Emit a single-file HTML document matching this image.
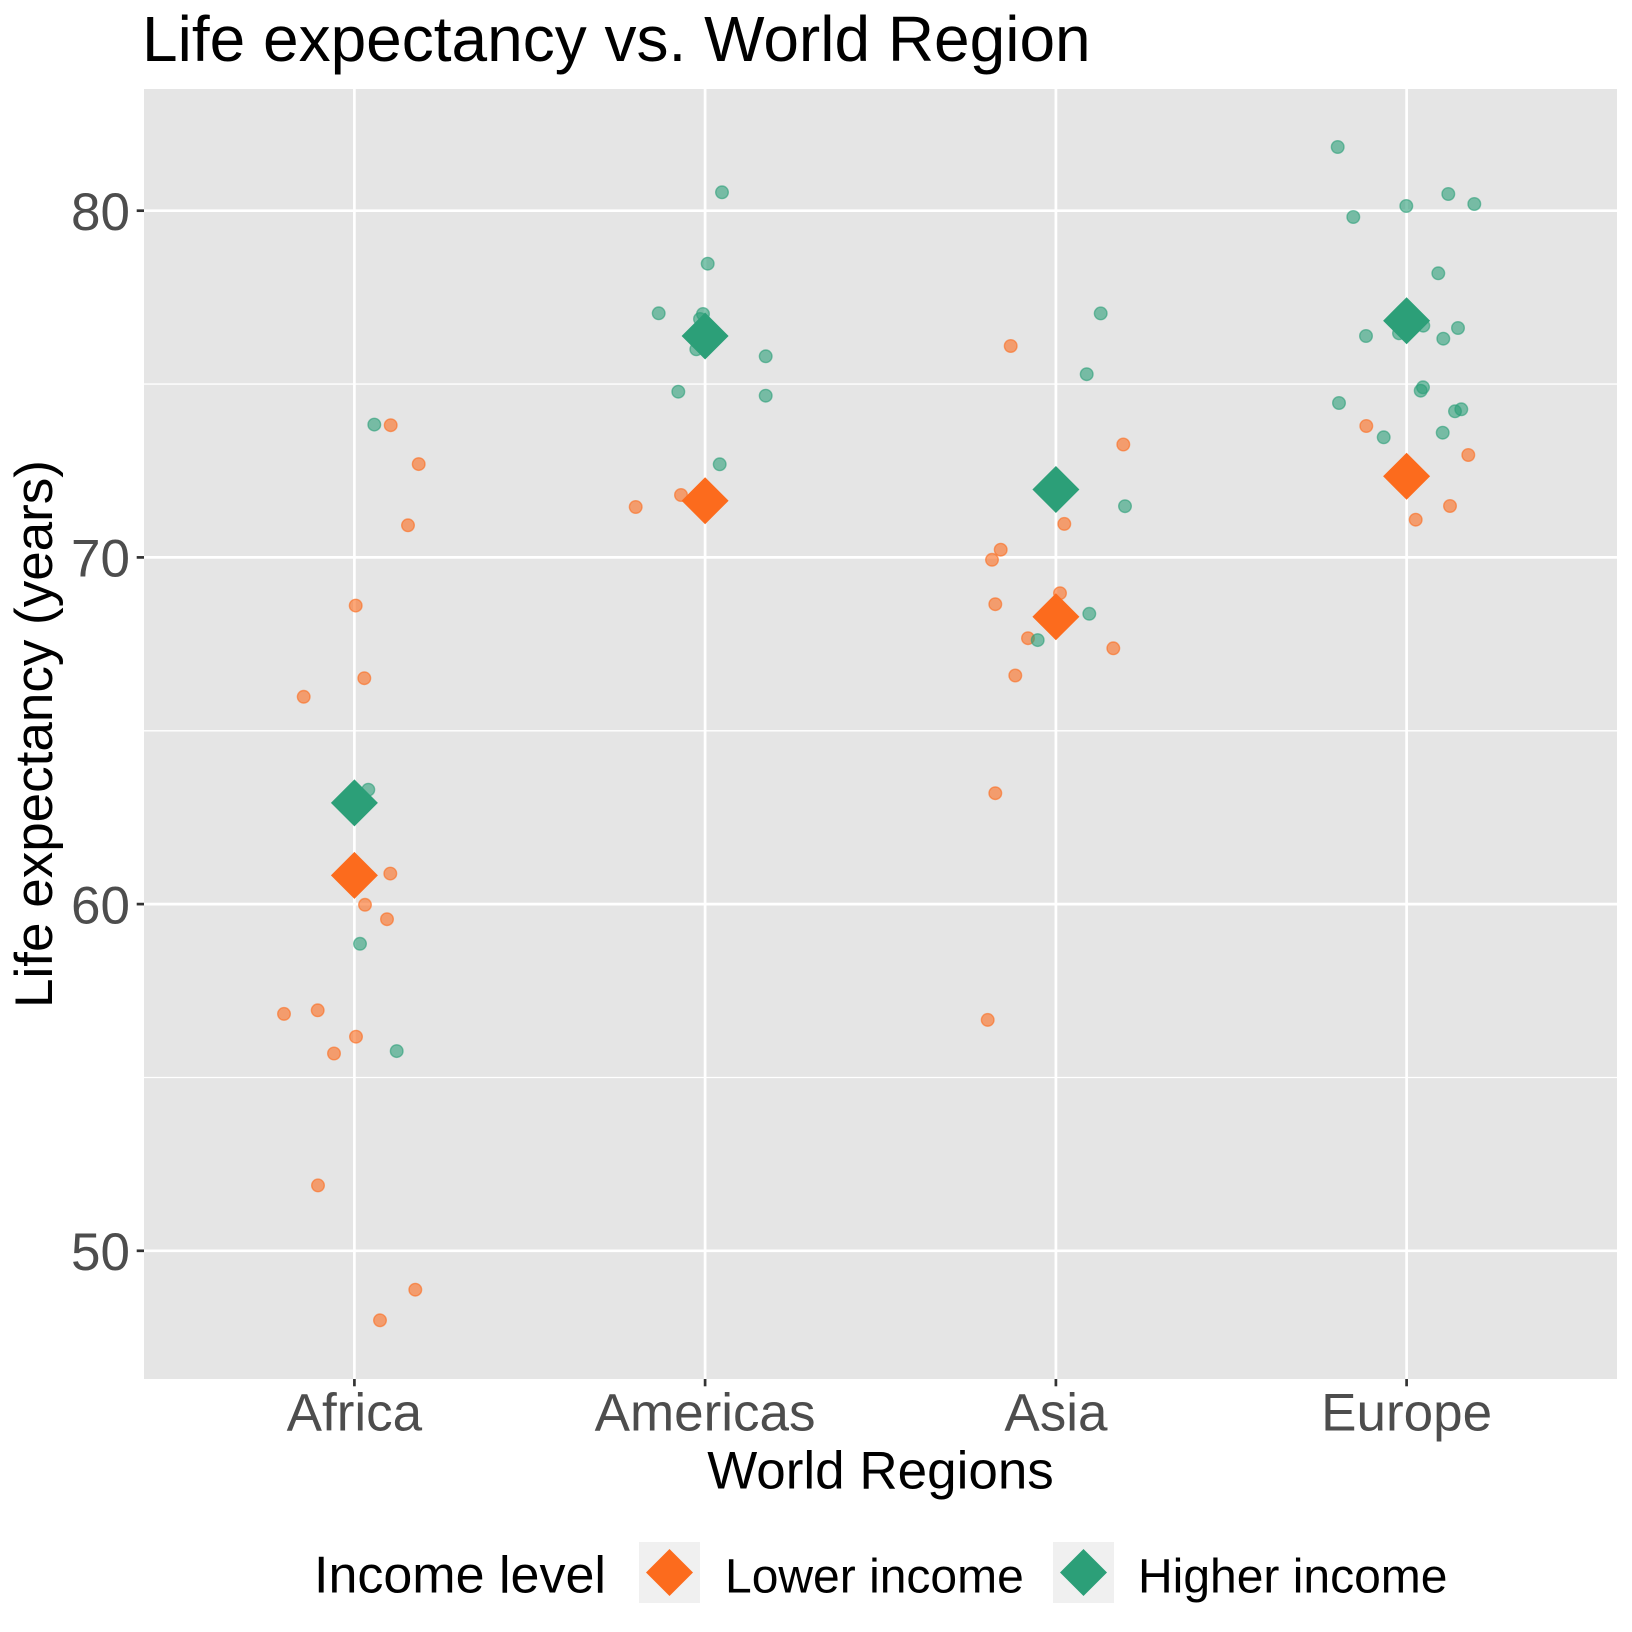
<!DOCTYPE html>
<html>
<head>
<meta charset="utf-8">
<style>
html,body{margin:0;padding:0;background:#fff;}
svg{display:block;}
text{font-family:"Liberation Sans", Arial, sans-serif;}
</style>
</head>
<body>
<svg width="1632" height="1632" viewBox="0 0 1632 1632" xmlns="http://www.w3.org/2000/svg">
<rect x="0" y="0" width="1632" height="1632" fill="#ffffff"/>
<!-- title -->
<text x="142" y="61" font-size="64" fill="#000">Life expectancy vs. World Region</text>
<!-- panel -->
<rect x="144" y="89" width="1473" height="1290" fill="#E5E5E5"/>
<!-- minor grid -->
<g stroke="#ffffff" stroke-width="1.35">
<line x1="144" x2="1617" y1="1077.5" y2="1077.5"/>
<line x1="144" x2="1617" y1="730.8" y2="730.8"/>
<line x1="144" x2="1617" y1="384.1" y2="384.1"/>
</g>
<!-- major grid -->
<g stroke="#ffffff" stroke-width="2.7">
<line x1="144" x2="1617" y1="1250.8" y2="1250.8"/>
<line x1="144" x2="1617" y1="904.1" y2="904.1"/>
<line x1="144" x2="1617" y1="557.4" y2="557.4"/>
<line x1="144" x2="1617" y1="210.7" y2="210.7"/>
<line x1="354.4" x2="354.4" y1="89" y2="1379"/>
<line x1="705.1" x2="705.1" y1="89" y2="1379"/>
<line x1="1055.9" x2="1055.9" y1="89" y2="1379"/>
<line x1="1406.6" x2="1406.6" y1="89" y2="1379"/>
</g>
<!-- points -->
<g id="pts" stroke-width="1.4">
<g fill="#FC6B1D" stroke="#FC6B1D" fill-opacity="0.6" stroke-opacity="0.6">
<circle cx="390.7" cy="425.2" r="6.3"/>
<circle cx="418.7" cy="464.1" r="6.3"/>
<circle cx="408" cy="525.3" r="6.3"/>
<circle cx="355.7" cy="605.6" r="6.3"/>
<circle cx="364.3" cy="678.2" r="6.3"/>
<circle cx="303.7" cy="696.8" r="6.3"/>
<circle cx="390.3" cy="873.6" r="6.3"/>
<circle cx="365" cy="904.8" r="6.3"/>
<circle cx="387" cy="919.2" r="6.3"/>
<circle cx="284" cy="1013.9" r="6.3"/>
<circle cx="317.7" cy="1010.3" r="6.3"/>
<circle cx="356" cy="1036.7" r="6.3"/>
<circle cx="334" cy="1053.5" r="6.3"/>
<circle cx="318" cy="1185.4" r="6.3"/>
<circle cx="415.3" cy="1289.7" r="6.3"/>
<circle cx="380" cy="1320.3" r="6.3"/>

<circle cx="681" cy="495" r="6.3"/>
<circle cx="635.7" cy="507" r="6.3"/>

<circle cx="1010.7" cy="346" r="6.3"/>
<circle cx="1123.3" cy="444.5" r="6.3"/>
<circle cx="1064.3" cy="523.9" r="6.3"/>
<circle cx="1000.7" cy="549.7" r="6.3"/>
<circle cx="992" cy="559.8" r="6.3"/>
<circle cx="1060" cy="593.2" r="6.3"/>
<circle cx="995.3" cy="604.2" r="6.3"/>
<circle cx="1028" cy="638.2" r="6.3"/>
<circle cx="1113.3" cy="648.3" r="6.3"/>
<circle cx="1015.3" cy="675.5" r="6.3"/>
<circle cx="995.3" cy="793.2" r="6.3"/>
<circle cx="987.7" cy="1019.9" r="6.3"/>

<circle cx="1366.3" cy="426" r="6.3"/>
<circle cx="1468.3" cy="455" r="6.3"/>
<circle cx="1450" cy="506" r="6.3"/>
<circle cx="1415.7" cy="519.7" r="6.3"/>
</g>
<g fill="#2C9F78" stroke="#2C9F78" fill-opacity="0.6" stroke-opacity="0.6">
<circle cx="374.3" cy="424.6" r="6.3"/>
<circle cx="368.3" cy="789.7" r="6.3"/>
<circle cx="360" cy="943.8" r="6.3"/>
<circle cx="396.7" cy="1051.1" r="6.3"/>

<circle cx="722" cy="192.3" r="6.3"/>
<circle cx="707.7" cy="263.7" r="6.3"/>
<circle cx="658.7" cy="313.3" r="6.3"/>
<circle cx="703" cy="314" r="6.3"/>
<circle cx="700" cy="319" r="6.3"/>
<circle cx="696.3" cy="349.3" r="6.3"/>
<circle cx="765.7" cy="356.3" r="6.3"/>
<circle cx="678.3" cy="391.7" r="6.3"/>
<circle cx="765.7" cy="395.7" r="6.3"/>
<circle cx="719.7" cy="464.3" r="6.3"/>

<circle cx="1100.7" cy="313.4" r="6.3"/>
<circle cx="1086.7" cy="374.2" r="6.3"/>
<circle cx="1125" cy="506.2" r="6.3"/>
<circle cx="1089.3" cy="613.8" r="6.3"/>
<circle cx="1037.7" cy="640.1" r="6.3"/>

<circle cx="1337.7" cy="147" r="6.3"/>
<circle cx="1448.3" cy="194" r="6.3"/>
<circle cx="1474.3" cy="204" r="6.3"/>
<circle cx="1406.3" cy="206" r="6.3"/>
<circle cx="1353.3" cy="217" r="6.3"/>
<circle cx="1438.3" cy="273.3" r="6.3"/>
<circle cx="1423.3" cy="325.7" r="6.3"/>
<circle cx="1399" cy="333.3" r="6.3"/>
<circle cx="1458" cy="328" r="6.3"/>
<circle cx="1366" cy="336" r="6.3"/>
<circle cx="1443.3" cy="338.7" r="6.3"/>
<circle cx="1423" cy="387.3" r="6.3"/>
<circle cx="1420.7" cy="390.7" r="6.3"/>
<circle cx="1339" cy="403" r="6.3"/>
<circle cx="1461.3" cy="409.3" r="6.3"/>
<circle cx="1455" cy="411.3" r="6.3"/>
<circle cx="1383.7" cy="437.3" r="6.3"/>
<circle cx="1442.7" cy="432.7" r="6.3"/>
</g>
</g>
<!-- summary diamonds -->
<g>
<polygon fill="#2C9F78" points="354.4,779.4 377.9,802.9 354.4,826.4 330.9,802.9"/>
<polygon fill="#FC6B1D" points="354.4,851.9 377.9,875.4 354.4,898.9 330.9,875.4"/>
<polygon fill="#2C9F78" points="705.1,312.5 728.6,336 705.1,359.5 681.6,336"/>
<polygon fill="#FC6B1D" points="705.1,477.2 728.6,500.7 705.1,524.2 681.6,500.7"/>
<polygon fill="#2C9F78" points="1055.9,466 1079.4,489.5 1055.9,513 1032.4,489.5"/>
<polygon fill="#FC6B1D" points="1055.9,593.2 1079.4,616.7 1055.9,640.2 1032.4,616.7"/>
<polygon fill="#2C9F78" points="1406.6,297.2 1430.1,320.7 1406.6,344.2 1383.1,320.7"/>
<polygon fill="#FC6B1D" points="1406.6,452.8 1430.1,476.3 1406.6,499.8 1383.1,476.3"/>
</g>
<!-- ticks -->
<g stroke="#333333" stroke-width="2.7">
<line x1="136.7" x2="144" y1="1250.8" y2="1250.8"/>
<line x1="136.7" x2="144" y1="904.1" y2="904.1"/>
<line x1="136.7" x2="144" y1="557.4" y2="557.4"/>
<line x1="136.7" x2="144" y1="210.7" y2="210.7"/>
<line x1="354.4" x2="354.4" y1="1379" y2="1386.3"/>
<line x1="705.1" x2="705.1" y1="1379" y2="1386.3"/>
<line x1="1055.9" x2="1055.9" y1="1379" y2="1386.3"/>
<line x1="1406.6" x2="1406.6" y1="1379" y2="1386.3"/>
</g>
<!-- y tick labels -->
<g font-size="53" fill="#4D4D4D" text-anchor="end">
<text x="130" y="1270">50</text>
<text x="130" y="923.4">60</text>
<text x="130" y="576.7">70</text>
<text x="130" y="230">80</text>
</g>
<!-- x tick labels -->
<g font-size="53" fill="#4D4D4D" text-anchor="middle">
<text x="354.4" y="1430.7">Africa</text>
<text x="705.1" y="1430.7">Americas</text>
<text x="1055.9" y="1430.7">Asia</text>
<text x="1406.6" y="1430.7">Europe</text>
</g>
<!-- axis titles -->
<text x="880.5" y="1488.3" font-size="53" fill="#000" text-anchor="middle">World Regions</text>
<text transform="translate(52,734) rotate(-90)" font-size="53" fill="#000" text-anchor="middle">Life expectancy (years)</text>
<!-- legend -->
<text x="314" y="1592.3" font-size="52" fill="#000">Income level</text>
<rect x="639" y="1542" width="61" height="61" fill="#F0F0F0"/>
<polygon fill="#FC6B1D" points="669.5,1549 693,1572.5 669.5,1596 646,1572.5"/>
<text x="725" y="1592.3" font-size="48" fill="#000">Lower income</text>
<rect x="1053" y="1542" width="61" height="61" fill="#F0F0F0"/>
<polygon fill="#2C9F78" points="1083.5,1549 1107,1572.5 1083.5,1596 1060,1572.5"/>
<text x="1138" y="1592.3" font-size="48" fill="#000">Higher income</text>
</svg>
</body>
</html>
